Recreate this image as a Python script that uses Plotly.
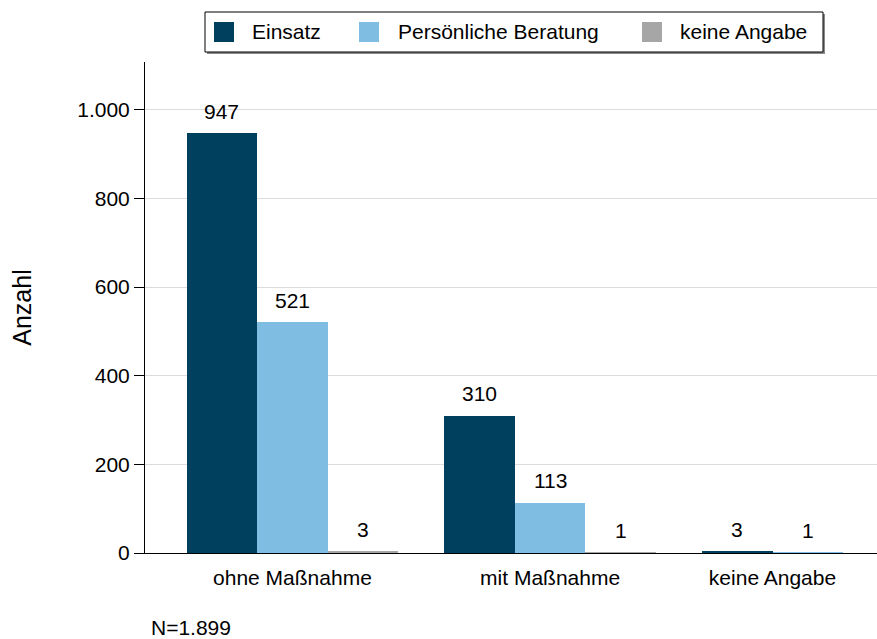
import plotly.graph_objects as go

# Daten
kategorien = ["ohne Maßnahme", "mit Maßnahme", "keine Angabe"]
serien = ["Einsatz", "Persönliche Beratung", "keine Angabe"]
einsatz = [947, 310, 3]
beratung = [521, 113, 1]
keine_angabe = [3, 1, None]
farben = ["#00405f", "#7fbde2", "#a6a6a6"]
y_ticks = [0, 200, 400, 600, 800, 1000]
n_text = "N=1.899"

werte = [einsatz, beratung, keine_angabe]

# Plotbereich in Pixeln (fuer Legende/Annotationen)
L, R, T, B = 145, 0, 62, 86
W, H = 877 - L - R, 639 - T - B

def px(x):
    return (x - L) / W

def py(y):
    return (T + H - y) / H

# Balkenpositionen: leere Kategorien werden ausgelassen (wie Stata nofill)
luecke = 0.65
pos = [[None] * len(kategorien) for _ in serien]
mitten = []
cursor = 0.0
for k in range(len(kategorien)):
    slots = []
    for s in range(len(serien)):
        if werte[s][k] is not None:
            pos[s][k] = cursor
            slots.append(cursor)
            cursor += 1
    mitten.append(sum(slots) / len(slots))
    cursor += luecke

fig = go.Figure()
annots = []
for s, name in enumerate(serien):
    xs = [p for p, v in zip(pos[s], werte[s]) if v is not None]
    ys = [v for v in werte[s] if v is not None]
    fig.add_trace(go.Bar(x=xs, y=ys, name=name, width=1.0,
                         marker=dict(color=farben[s], line=dict(width=0)),
                         showlegend=False))
    for x, y in zip(xs, ys):
        annots.append(dict(x=x, y=y, text=str(y), showarrow=False,
                           yanchor="middle", yshift=22,
                           font=dict(size=21, color="black")))

# Legende manuell (grosse Quadrate, Rahmen mit Schatten)
shapes = [
    dict(type="rect", xref="paper", yref="paper", x0=px(207), x1=px(825),
         y0=py(54), y1=py(14), fillcolor="#8a8a8a", line=dict(width=0), layer="above"),
    dict(type="rect", xref="paper", yref="paper", x0=px(205), x1=px(823),
         y0=py(52), y1=py(12), fillcolor="white", line=dict(color="black", width=1), layer="above"),
]
leg_sq = [214, 359, 642]
leg_tx = [250, 396, 678]
for s, name in enumerate(serien):
    shapes.append(dict(type="rect", xref="paper", yref="paper",
                       x0=px(leg_sq[s]), x1=px(leg_sq[s] + 20), y0=py(42), y1=py(22),
                       fillcolor=farben[s], line=dict(width=0), layer="above"))
    annots.append(dict(xref="paper", yref="paper", x=px(leg_tx[s]), y=py(32),
                       text=name, showarrow=False, xanchor="left", yanchor="middle",
                       font=dict(size=21, color="black")))

annots.append(dict(xref="paper", yref="paper", x=px(149), y=py(627), text=n_text,
                   showarrow=False, xanchor="left", yanchor="middle",
                   font=dict(size=21, color="black")))

fig.update_layout(
    width=877, height=639,
    margin=dict(l=L, r=R, t=T, b=B),
    paper_bgcolor="white", plot_bgcolor="white",
    font=dict(family="Liberation Sans, Arial, sans-serif", size=21, color="black"),
    separators=",.",
    bargap=0, barmode="overlay",
    shapes=shapes, annotations=annots,
)
fig.update_xaxes(range=[-1.088, 9.28], tickvals=mitten, ticktext=kategorien,
                 showgrid=False, zeroline=False, showline=True, linecolor="black",
                 linewidth=1, ticks="", ticklabelstandoff=6,
                 tickfont=dict(size=21, color="black"))
fig.update_yaxes(range=[0, 1108], tickvals=y_ticks, tickformat=",d",
                 showgrid=True, gridcolor="#dcdcdc", gridwidth=1, zeroline=False,
                 showline=True, linecolor="black", linewidth=1,
                 ticks="outside", ticklen=10, tickcolor="black",
                 tickfont=dict(size=21, color="black"),
                 title=dict(text="Anzahl", font=dict(size=25, color="black"), standoff=38))

# Seitenrand entfernen, damit die Grafik genau im Fenster sitzt
fig.write_html("out.html", config={"displayModeBar": False},
               post_script="document.body.style.margin='0';")
